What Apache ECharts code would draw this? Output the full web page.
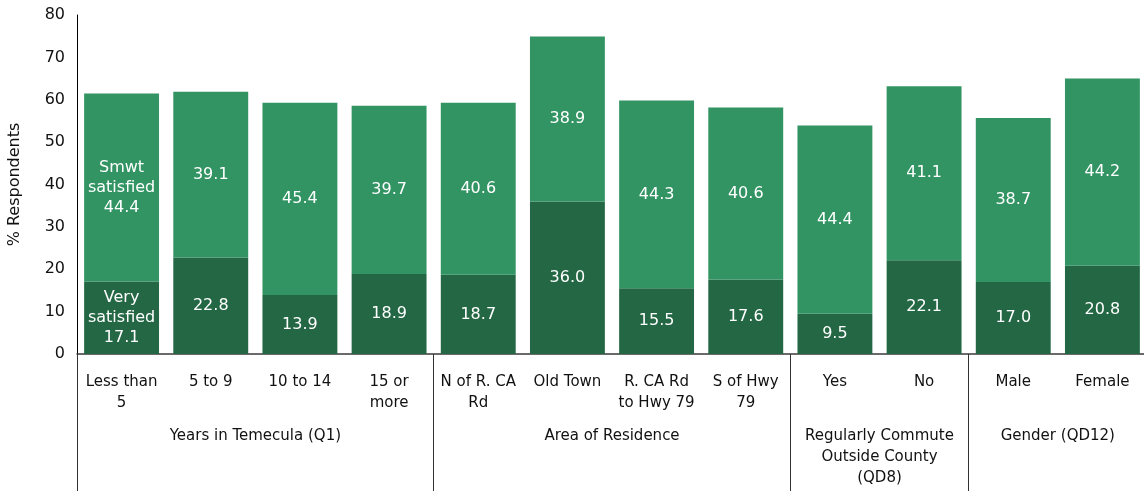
<!DOCTYPE html>
<html>
<head>
    <meta charset="utf-8">
    <title>Satisfaction by subgroup</title>
    <script src="https://cdn.jsdelivr.net/npm/echarts@6/dist/echarts.min.js"></script>
    <style type="text/css">
        html, body { margin: 0; padding: 0; background: #fff; }
        #main { width: 1144px; height: 491px; }
    </style>
</head>
<body>
<div id="main"></div>
<script type="text/javascript">
    // categories (bottom row) and group labels (second row)
    var categories = ['Less than\n5', '5 to 9', '10 to 14', '15 or\nmore',
        'N of R. CA\nRd', 'Old Town', 'R. CA Rd\nto Hwy 79', 'S of Hwy\n79',
        'Yes', 'No', 'Male', 'Female'];
    var groupNames = ['Years in Temecula (Q1)', 'Area of Residence',
        'Regularly Commute\nOutside County\n(QD8)', 'Gender (QD12)'];
    // where each group label sits, in category-band units
    var groupCenters = [2, 6, 9, 11];
    // band index where a group starts (divider lines)
    var groupStarts = [0, 4, 8, 10];

    var verySatisfied = [17.1, 22.8, 13.9, 18.9, 18.7, 36.0, 15.5, 17.6, 9.5, 22.1, 17.0, 20.8];
    var smwtSatisfied = [44.4, 39.1, 45.4, 39.7, 40.6, 38.9, 44.3, 40.6, 44.4, 41.1, 38.7, 44.2];

    var yTicks = [0, 10, 20, 30, 40, 50, 60, 70, 80];

    var chart = echarts.init(document.getElementById('main'));

    var labelStyle = {
        show: true,
        position: 'inside',
        color: '#ffffff',
        fontSize: 16,
        lineHeight: 20
    };

    chart.setOption({
        animation: false,
        textStyle: {fontFamily: 'DejaVu Sans'},
        // plot runs a little past the right edge, like the original
        grid: {left: 77, width: 1070, top: 15, bottom: 137, containLabel: false, outerBoundsMode: 'none'},
        xAxis: [
            {
                type: 'category',
                data: categories,
                axisLine: {show: true, lineStyle: {color: '#3a3a3a', width: 1.5}},
                axisTick: {
                    show: true,
                    length: 137,
                    interval: function (i) { return groupStarts.indexOf(i) >= 0; },
                    lineStyle: {color: '#333', width: 1}
                },
                axisLabel: {
                    interval: 0,
                    color: '#111',
                    fontSize: 15,
                    lineHeight: 21,
                    margin: 18,
                    verticalAlign: 'top'
                }
            },
            {
                type: 'value',
                position: 'bottom',
                min: 0,
                max: categories.length,
                interval: 1,
                axisLine: {show: false},
                axisTick: {show: false},
                splitLine: {show: false},
                axisLabel: {
                    color: '#111',
                    fontSize: 15,
                    lineHeight: 21,
                    margin: 72,
                    verticalAlign: 'top',
                    formatter: function (v) {
                        var k = groupCenters.indexOf(v);
                        return k >= 0 ? groupNames[k] : '';
                    }
                }
            }
        ],
        yAxis: {
            type: 'value',
            min: yTicks[0],
            max: yTicks[yTicks.length - 1],
            interval: 10,
            name: '% Respondents',
            nameLocation: 'middle',
            nameGap: 54,
            nameTextStyle: {color: '#111', fontSize: 16},
            axisLine: {show: true, lineStyle: {color: '#000', width: 1}},
            axisTick: {show: false},
            splitLine: {show: false},
            axisLabel: {color: '#111', fontSize: 16, margin: 12}
        },
        series: [
            {
                name: 'Very satisfied',
                type: 'bar',
                stack: 'sat',
                barCategoryGap: '16%',
                itemStyle: {color: '#236744'},
                label: Object.assign({}, labelStyle, {
                    formatter: function (p) {
                        var t = p.value.toFixed(1);
                        return p.dataIndex === 0 ? 'Very\nsatisfied\n' + t : t;
                    }
                }),
                data: verySatisfied
            },
            {
                name: 'Smwt satisfied',
                type: 'bar',
                stack: 'sat',
                barCategoryGap: '16%',
                itemStyle: {color: '#329463'},
                label: Object.assign({}, labelStyle, {
                    formatter: function (p) {
                        var t = p.value.toFixed(1);
                        return p.dataIndex === 0 ? 'Smwt\nsatisfied\n' + t : t;
                    }
                }),
                data: smwtSatisfied
            }
        ]
    });
</script>
</body>
</html>
